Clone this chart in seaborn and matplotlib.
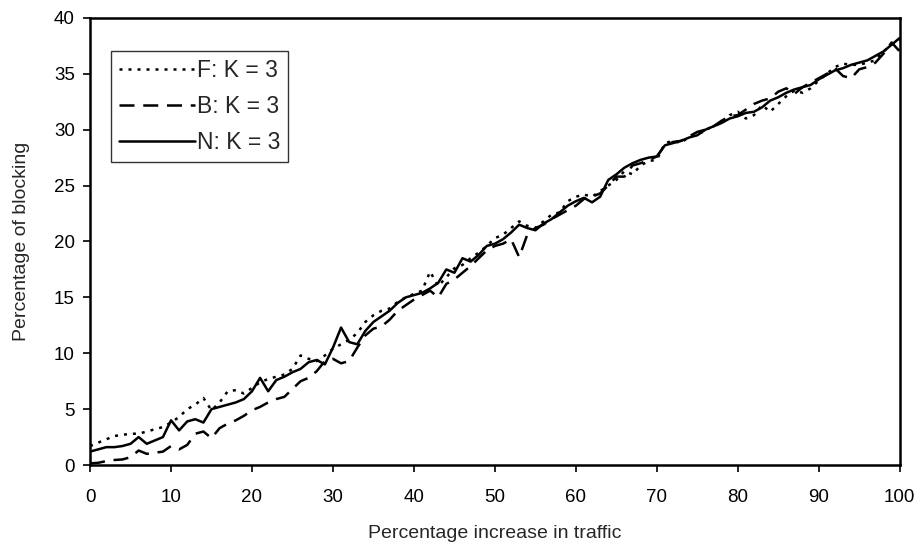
import matplotlib
matplotlib.use("Agg")
import matplotlib.pyplot as plt
import seaborn as sns
import numpy as np

# percentage increase in traffic, 0..100 in steps of 1
traffic = list(range(0, 101))

# F: K = 3 (dotted)
f_k3 = [1.7, 2.0, 2.3, 2.6, 2.7, 2.8, 2.8, 3.0, 3.2, 3.4,
        3.8, 4.3, 5.0, 5.4, 6.0, 4.9, 5.6, 6.6, 6.7, 6.4,
        6.9, 7.4, 7.7, 7.9, 8.1, 8.6, 9.8, 9.5, 9.3, 9.8,
        10.4, 10.8, 11.2, 11.8, 12.8, 13.4, 13.8, 14.0, 14.6, 15.0,
        15.3, 15.6, 17.3, 16.0, 16.8, 17.6, 17.9, 18.5, 19.0, 19.6,
        20.3, 20.6, 21.2, 21.8, 21.4, 21.2, 21.8, 22.4, 22.6, 23.6,
        24.0, 24.2, 24.0, 24.5, 25.0, 25.5, 26.3, 26.0, 26.8, 27.2,
        27.3, 28.8, 29.0, 28.8, 29.4, 29.6, 29.9, 30.4, 30.5, 31.3,
        31.6, 31.0, 31.3, 32.2, 31.6, 32.3, 33.0, 33.5, 33.3, 33.7,
        34.4, 35.0, 35.6, 35.9, 35.8, 35.8, 36.0, 36.2, 37.0, 37.6,
        38.0]

# B: K = 3 (dashed)
b_k3 = [0.15, 0.2, 0.35, 0.45, 0.5, 0.7, 1.3, 1.0, 1.1, 1.2,
        1.7, 1.4, 1.8, 2.8, 3.0, 2.4, 3.3, 3.7, 4.0, 4.4,
        4.9, 5.2, 5.6, 5.9, 6.1, 6.8, 7.5, 7.8, 8.4, 9.3,
        9.5, 9.1, 9.3, 10.5, 11.6, 12.2, 12.4, 13.0, 13.8, 14.3,
        14.8, 15.2, 15.6, 15.0, 16.2, 16.6, 17.2, 17.8, 18.5, 19.2,
        19.6, 19.8, 20.2, 18.6, 20.6, 21.2, 21.5, 22.0, 22.4, 22.8,
        23.2, 23.8, 24.0, 24.3, 25.0, 25.8, 25.8, 26.8, 27.0, 27.3,
        27.6, 28.6, 28.9, 29.0, 29.4, 29.8, 30.0, 30.3, 30.8, 31.2,
        31.3, 31.8, 32.3, 32.6, 32.8, 33.4, 33.7, 33.2, 33.8, 34.2,
        34.6, 35.0, 35.5, 34.8, 34.6, 35.4, 35.6, 36.0, 36.8, 37.8,
        37.0]

# N: K = 3 (solid)
n_k3 = [1.2, 1.4, 1.6, 1.6, 1.7, 1.9, 2.5, 1.9, 2.2, 2.5,
        4.0, 3.1, 3.9, 4.1, 3.8, 5.0, 5.2, 5.4, 5.6, 5.9,
        6.6, 7.8, 6.6, 7.6, 7.9, 8.3, 8.6, 9.2, 9.4, 9.0,
        10.5, 12.3, 11.0, 10.8, 12.0, 12.8, 13.3, 13.8, 14.5, 15.0,
        15.2, 15.4, 15.8, 16.3, 17.5, 17.2, 18.5, 18.2, 18.8, 19.6,
        19.8, 20.2, 20.8, 21.5, 21.2, 21.0, 21.6, 22.0, 22.6, 23.2,
        23.6, 23.9, 23.5, 24.0, 25.5, 26.0, 26.6, 27.0, 27.3, 27.5,
        27.6, 28.6, 28.8, 29.0, 29.3, 29.5, 30.0, 30.3, 30.6, 31.0,
        31.2, 31.5, 31.6, 32.0, 32.6, 32.9, 33.3, 33.6, 33.8, 34.0,
        34.5, 34.9, 35.3, 35.5, 35.8, 36.0, 36.2, 36.6, 37.0, 37.6,
        38.2]

series_names = ["F: K = 3", "B: K = 3", "N: K = 3"]
x_ticks = list(range(0, 101, 10))
y_ticks = list(range(0, 41, 5))

sns.set_style("white")
plt.rcParams["font.family"] = ["Liberation Sans", "DejaVu Sans"]

fig = plt.figure(figsize=(9.19, 5.42), dpi=100)
ax = fig.add_axes([0.098, 0.142, 0.881, 0.825])

styles = [(0, (1.2, 2.4)), (0, (6, 3.5)), "-"]
for name, vals, ls in zip(series_names, [f_k3, b_k3, n_k3], styles):
    sns.lineplot(x=traffic, y=vals, ax=ax, color="black", linewidth=1.8,
                 linestyle=ls, label=name)

ax.set_xlim(0, 100)
ax.set_ylim(0, 40)
ax.set_xticks(x_ticks)
ax.set_yticks(y_ticks)
ax.tick_params(axis="both", direction="out", length=5, width=1.2,
               labelsize=13.5, colors="black", bottom=True, left=True)
ax.tick_params(axis="x", pad=12)
ax.tick_params(axis="y", pad=6)
for s in ax.spines.values():
    s.set_color("black")
    s.set_linewidth(1.8)

ax.set_xlabel("Percentage increase in traffic", fontsize=14, labelpad=14)
ax.set_ylabel("Percentage of blocking", fontsize=14, labelpad=17)

leg = ax.legend(loc="upper left", bbox_to_anchor=(0.026, 0.925), fontsize=16.5,
                frameon=True, fancybox=False, handlelength=3.3,
                handletextpad=0.1, borderpad=0.35, labelspacing=0.55,
                borderaxespad=0)
leg.get_frame().set_edgecolor("black")
leg.get_frame().set_linewidth(1.0)
for h in leg.get_lines():
    h.set_linewidth(1.8)

fig.savefig("out.png", dpi=100)
